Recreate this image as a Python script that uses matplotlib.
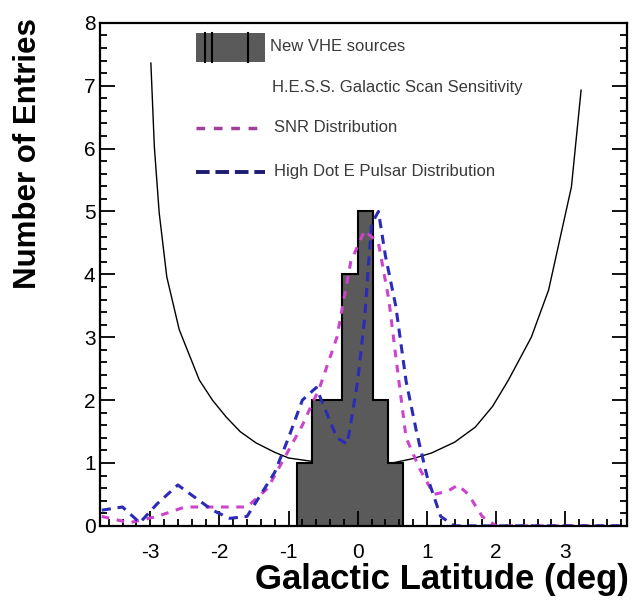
import matplotlib
matplotlib.use("Agg")
import matplotlib.pyplot as plt
from matplotlib.ticker import MultipleLocator
from matplotlib.patches import Rectangle
from matplotlib.lines import Line2D

plt.rcParams['font.family'] = ['Liberation Sans', 'DejaVu Sans']
plt.rcParams['axes.unicode_minus'] = False

# Histogram of new VHE sources (bin edges, counts)
bin_edges = [-0.88, -0.66, -0.44, -0.22, 0.0, 0.22, 0.44, 0.66]
counts = [1, 2, 2, 4, 5, 2, 1]

# H.E.S.S. Galactic scan sensitivity
sens_x = [-2.99, -2.94, -2.87, -2.76, -2.58, -2.29, -2.1, -1.90, -1.7, -1.47, -1.2,
          -1.00, -0.5, 0.0, 0.5, 0.8, 1.07, 1.4, 1.70, 1.95, 2.18, 2.51, 2.76,
          3.09, 3.23]
sens_y = [7.36, 6.03, 4.98, 3.96, 3.12, 2.32, 2.0, 1.73, 1.5, 1.32, 1.17,
          1.08, 1.0, 0.98, 1.0, 1.07, 1.16, 1.33, 1.57, 1.9, 2.32, 3.0, 3.75,
          5.39, 6.93]

# SNR distribution
snr_x = [-3.7, -3.3, -2.9, -2.5, -2.0, -1.6, -1.3, -1.0, -0.8, -0.55, -0.3, -0.1,
         0.1, 0.3, 0.45, 0.55, 0.7, 0.9, 1.1, 1.3, 1.45, 1.6, 1.8, 2.0, 2.5, 3.0, 3.5, 3.85]
snr_y = [0.15, 0.05, 0.15, 0.3, 0.3, 0.3, 0.6, 1.2, 1.6, 2.2, 3.0, 4.2,
         4.7, 4.5, 3.6, 2.7, 1.4, 0.9, 0.5, 0.55, 0.65, 0.5, 0.15, 0.0, 0.0, 0.0, 0.0, 0.0]

# High Edot pulsar distribution
psr_x = [-3.7, -3.4, -3.15, -2.9, -2.6, -2.35, -2.1, -1.85, -1.6, -1.4, -1.2, -1.0,
         -0.8, -0.6, -0.45, -0.3, -0.15, 0.0, 0.1, 0.2, 0.3, 0.4, 0.55, 0.7, 0.85,
         1.0, 1.2, 1.4, 1.7, 2.0, 2.5, 3.0, 3.5, 3.85]
psr_y = [0.25, 0.3, 0.05, 0.35, 0.65, 0.45, 0.25, 0.12, 0.15, 0.5, 0.85, 1.4,
         2.0, 2.2, 1.8, 1.4, 1.3, 2.3, 3.3, 4.8, 5.0, 4.3, 3.5, 2.3, 1.5,
         0.8, 0.15, 0.0, 0.0, 0.0, 0.0, 0.0, 0.0, 0.0]

legend_labels = ["New VHE sources", "H.E.S.S. Galactic Scan Sensitivity",
                 "SNR Distribution", "High Dot E Pulsar Distribution"]

snr_color = '#cc44cc'
psr_color = '#2b2bb8'
bar_color = '#5a5a5a'

fig = plt.figure(figsize=(6.35, 6.01), dpi=100)
ax = fig.add_axes([0.157, 0.125, 0.83, 0.837])

ax.plot(sens_x, sens_y, color='black', lw=1.0, zorder=0.8)
ax.stairs(counts, bin_edges, fill=True, color=bar_color, zorder=1)
ax.stairs(counts, bin_edges, baseline=0, color='black', lw=1.5, zorder=1.1)
ax.plot(snr_x, snr_y, color=snr_color, lw=2.2, dashes=(2.5, 2.5), zorder=2)
ax.plot(psr_x, psr_y, color=psr_color, lw=2.2, dashes=(3, 2.2), zorder=2.1)

ax.set_xlim(-3.73, 3.89)
ax.set_ylim(0, 8)
ax.xaxis.set_major_locator(MultipleLocator(1))
ax.xaxis.set_minor_locator(MultipleLocator(0.2))
ax.yaxis.set_major_locator(MultipleLocator(1))
ax.yaxis.set_minor_locator(MultipleLocator(0.2))
ax.tick_params(which='both', direction='in', right=True, top=False, width=1.3,
               labelsize=15)
ax.tick_params(which='major', length=11)
ax.tick_params(which='minor', length=5)
ax.tick_params(axis='x', pad=12)
ax.tick_params(axis='y', pad=3)
for sp in ax.spines.values():
    sp.set_linewidth(1.6)

# legend drawn by hand in axes coordinates
tr = ax.transAxes
ax.add_patch(Rectangle((0.182, 0.922), 0.131, 0.058, transform=tr,
                       facecolor=bar_color, edgecolor='none', zorder=3))
for lx in [0.199, 0.213, 0.281]:
    ax.add_line(Line2D([lx, lx], [0.922, 0.980], transform=tr, color='black',
                       lw=1.5, zorder=3.1))
ax.add_line(Line2D([0.182, 0.313], [0.791, 0.791], transform=tr, color='#a0409a',
                   lw=2.5, dashes=(2.5, 2.5), zorder=3))
ax.add_line(Line2D([0.182, 0.313], [0.704, 0.704], transform=tr, color='#1c1c70',
                   lw=2.8, dashes=(3.5, 1.5), zorder=3))
leg_y = [0.952, 0.871, 0.791, 0.704]
leg_x = [0.323, 0.327, 0.33, 0.33]
for lx, ly, txt in zip(leg_x, leg_y, legend_labels):
    ax.text(lx, ly, txt, transform=tr, fontsize=12, va='center', ha='left',
            color='#3a3a3a')

fig.text(629 / 635, 1 - 580 / 601, "Galactic Latitude (deg)", ha='right',
         va='center', fontsize=25, fontweight='bold')
fig.text(28 / 635, 1 - 18 / 601, "Number of Entries", ha='center', va='top',
         rotation=90, fontsize=22.5, fontweight='bold')

fig.savefig("out.png", dpi=100)
